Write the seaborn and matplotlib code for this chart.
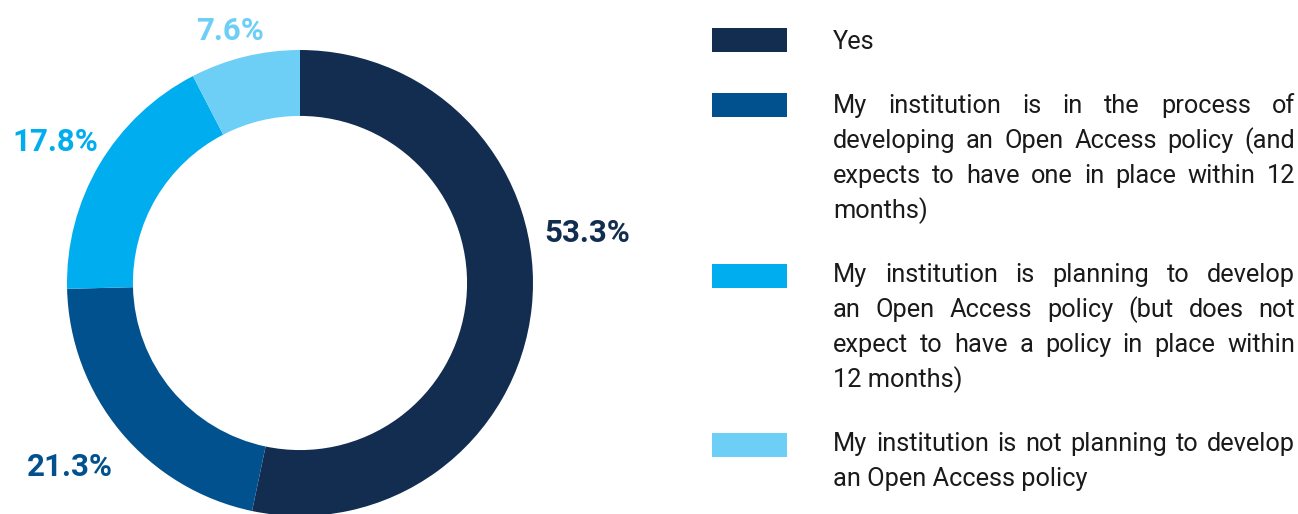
import matplotlib
matplotlib.use("Agg")
import matplotlib.pyplot as plt
from matplotlib.patches import Rectangle
import seaborn as sns

# Survey responses: does the institution have an Open Access policy?
categories = [
    "Yes",
    "My institution is in the process of developing an Open Access policy "
    "(and expects to have one in place within 12 months)",
    "My institution is planning to develop an Open Access policy "
    "(but does not expect to have a policy in place within 12 months)",
    "My institution is not planning to develop an Open Access policy",
]
shares = [53.3, 21.3, 17.8, 7.6]
value_labels = ["53.3%", "21.3%", "17.8%", "7.6%"]

# Line breaks used in the legend text block
legend_lines = [
    ["Yes"],
    ["My institution is in the process of",
     "developing an Open Access policy (and",
     "expects to have one in place within 12",
     "months)"],
    ["My institution is planning to develop",
     "an Open Access policy (but does not",
     "expect to have a policy in place within",
     "12 months)"],
    ["My institution is not planning to develop",
     "an Open Access policy"],
]

sns.set_theme(style="white")
palette = sns.color_palette(["#122D50", "#01518F", "#00AEEF", "#6DCFF6"])
plt.rcParams["font.family"] = ["Roboto", "DejaVu Sans"]

W, H = 1298, 514
fig = plt.figure(figsize=(W / 100, H / 100), dpi=100)
fig.patch.set_facecolor("white")

# Donut chart
ax = fig.add_axes([67 / W, (H - 516) / H, 466 / W, 466 / H])
ax.pie(shares, colors=palette, startangle=90, counterclock=False,
       radius=1.0, wedgeprops=dict(width=0.283, linewidth=0))
ax.set_xlim(-1, 1)
ax.set_ylim(-1, 1)
ax.set_aspect("equal")
ax.axis("off")

# Percentage labels around the ring
label_pos = [(1.232, 0.215), (-0.987, -0.79), (-1.052, 0.606), (-0.30, 1.083)]
for txt, (x, y), c in zip(value_labels, label_pos, palette):
    ax.text(x, y, txt, ha="center", va="center", fontsize=22.5,
            fontweight="bold", color=c, clip_on=False)

# Legend: colour swatches with justified descriptions
renderer = fig.canvas.get_renderer()
text_left, text_right = 833, 1295
swatch_tops = [28, 93, 264, 433]
first_line_centers = [42, 106, 275, 444]
line_step = 35
fs = 18.3
txt_color = "#1A1A1A"


def px(x, y):
    return x / W, 1 - y / H


def word_width(w):
    t = fig.text(0, 0, w, fontsize=fs)
    bb = t.get_window_extent(renderer=renderer)
    t.remove()
    return bb.width


for i, (lines, c) in enumerate(zip(legend_lines, palette)):
    x0, y0 = px(712, swatch_tops[i] + 24)
    fig.patches.append(Rectangle((x0, y0), 75 / W, 24 / H, transform=fig.transFigure,
                                 facecolor=c, edgecolor="none"))
    for j, line in enumerate(lines):
        yc = first_line_centers[i] + j * line_step
        words = line.split(" ")
        last = j == len(lines) - 1
        if last or len(words) == 1:
            fig.text(*px(text_left, yc), line, fontsize=fs, color=txt_color,
                     ha="left", va="center")
            continue
        widths = [word_width(w) for w in words]
        gap = (text_right - text_left - sum(widths)) / (len(words) - 1)
        x = text_left
        for w, ww in zip(words, widths):
            fig.text(*px(x, yc), w, fontsize=fs, color=txt_color,
                     ha="left", va="center")
            x += ww + gap

fig.savefig("out.png", dpi=100, facecolor="white")
